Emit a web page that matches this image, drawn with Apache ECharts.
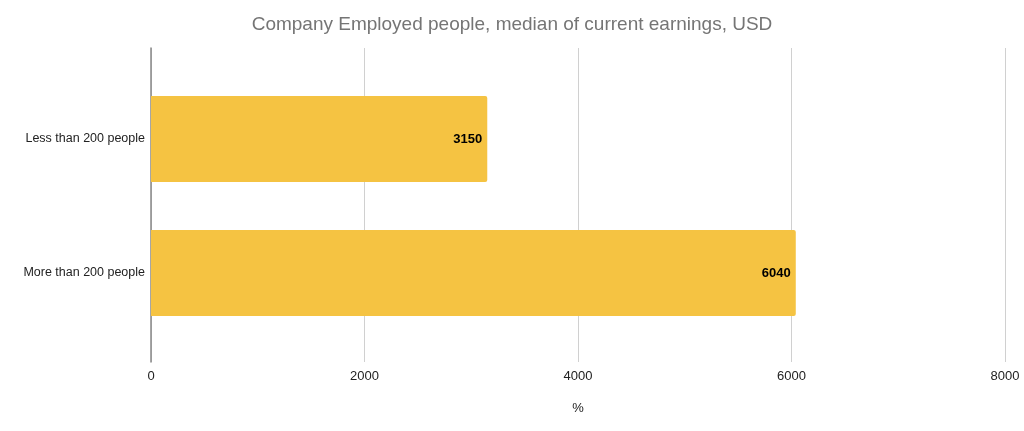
<!DOCTYPE html>
<html>
<head>
<meta charset="utf-8">
<script src="https://cdn.jsdelivr.net/npm/echarts@6/dist/echarts.min.js"></script>
<style>
html,body{margin:0;padding:0;background:#fff;}
#chart{width:1024px;height:431px;}
</style>
</head>
<body>
<div id="chart"></div>
<script>
var titleText = 'Company Employed people, median of current earnings, USD';
var categories = ['Less than 200 people', 'More than 200 people'];
var values = [3150, 6040];
var xTicks = [0, 2000, 4000, 6000, 8000];
var axisName = '%';

var chart = echarts.init(document.getElementById('chart'));
var font = '"Liberation Sans", Arial, sans-serif';
chart.setOption({
  animation: false,
  backgroundColor: '#ffffff',
  title: {
    text: titleText,
    left: 'center',
    top: 10,
    textStyle: { fontFamily: font, fontSize: 19, fontWeight: 'normal', color: '#757575' }
  },
  grid: [
    { left: 151, right: 19, top: 48, bottom: 69 },
    { left: 151, right: 19, top: 72, bottom: 91 }
  ],
  xAxis: [
    {
      gridIndex: 0, type: 'value', min: xTicks[0], max: xTicks[xTicks.length - 1], interval: 2000,
      name: axisName, nameLocation: 'middle', nameGap: 40,
      nameTextStyle: { fontFamily: font, fontSize: 13, color: '#222' },
      axisLine: { show: false }, axisTick: { show: false },
      axisLabel: { fontFamily: font, fontSize: 13, color: '#222', margin: 8,
        formatter: function (v) { return String(v); } },
      splitLine: { show: true, lineStyle: { color: '#d0d0d0', width: 1 } }
    },
    {
      gridIndex: 1, type: 'value', min: xTicks[0], max: xTicks[xTicks.length - 1],
      show: false, splitLine: { show: false }
    }
  ],
  yAxis: [
    {
      gridIndex: 0, type: 'value', min: 0, max: 1,
      axisLine: { show: true, onZero: false, lineStyle: { color: '#888', width: 1.5 } },
      axisTick: { show: false }, axisLabel: { show: false }, splitLine: { show: false }
    },
    {
      gridIndex: 1, type: 'category', data: categories, inverse: true,
      axisLine: { show: false }, axisTick: { show: false },
      axisLabel: { fontFamily: font, fontSize: 12.5, color: '#222', margin: 6 }
    }
  ],
  series: [{
    type: 'bar',
    xAxisIndex: 1, yAxisIndex: 1,
    data: values,
    barWidth: 86,
    itemStyle: { color: '#F5C342', borderRadius: [0, 2, 2, 0] },
    label: {
      show: true, position: 'insideRight', distance: 5,
      fontFamily: font, fontSize: 13, fontWeight: 'bold', color: '#000'
    }
  }]
});
</script>
</body>
</html>
